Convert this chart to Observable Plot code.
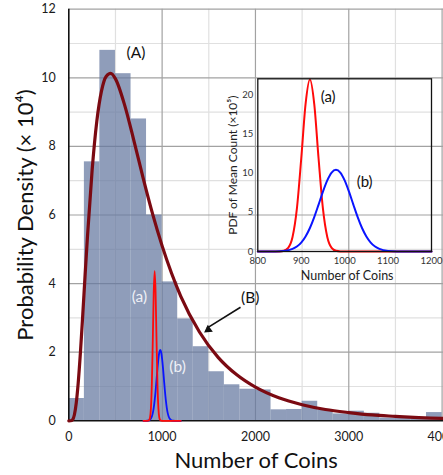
<!DOCTYPE html>
<html>
<head>
<meta charset="utf-8">
<script src="https://cdn.jsdelivr.net/npm/d3@7"></script>
<script src="https://cdn.jsdelivr.net/npm/@observablehq/plot@0.6"></script>
<style>
  html, body { margin: 0; padding: 0; background: white; }
  #wrap { position: relative; width: 443px; height: 475px; overflow: hidden; }
  #inset { position: absolute; left: 200px; top: 60px; }
</style>
</head>
<body>
<div id="wrap"><div id="main"></div><div id="inset"></div></div>
<script>
// ---- histogram ----
const binEdges = [0,167,333,500,667,833,1000,1167,1333,1500,1667,1833,2000,2167,2333,2500,2667,2833,3000,3167,3333,3500,3667,3833,4000];
const binDensity = [0.65,7.55,10.8,10.12,8.8,6.0,4.05,2.97,2.16,1.43,1.05,0.92,0.9,0.32,0.33,0.57,0.32,0.2,0.28,0.22,0.08,0.12,0.1,0.24];
// ---- fitted curve (B) ----
const curveX = [0,20,40,60,80,100,125,150,175,200,250,300,350,400,450,500,600,700,800,900,1000,1100,1200,1400,1600,1800,2000,2250,2500,2750,3000,3250,3500,3750,4000,4015];
const curveY = [0,0.001,0.029,0.176,0.522,1.078,2.01,3.11,4.26,5.37,7.31,8.73,9.61,10.04,10.13,9.97,9.19,8.14,7.04,6.01,5.10,4.31,3.63,2.59,1.85,1.34,0.98,0.67,0.47,0.33,0.24,0.17,0.13,0.094,0.070,0.069];
// ---- mean-count PDFs (a) red, (b) blue ----
const redX = [800,840,850,860,870,880,890,900,910,920,930,940,950,960,970,980,990,1000,1200];
const redInset = [0,0,0.011,0.085,0.46,1.85,5.46,11.81,18.77,21.9,18.77,11.81,5.46,1.85,0.46,0.085,0.011,0,0];
const redMain = [0,0,0.002,0.017,0.09,0.37,1.09,2.35,3.74,4.36,3.74,2.35,1.09,0.37,0.09,0.017,0.002,0,0];
const blueX = [800,820,840,860,880,890,900,910,920,930,940,950,960,970,980,990,1000,1010,1020,1030,1040,1050,1060,1070,1080,1100,1120,1140,1200];
const blueInset = [0,0,0.012,0.071,0.33,0.63,1.13,1.91,2.99,4.38,5.98,7.62,9.06,10.05,10.4,10.05,9.06,7.62,5.98,4.38,2.99,1.91,1.13,0.63,0.33,0.071,0.012,0,0];
const blueMain = [0,0,0.002,0.014,0.066,0.125,0.225,0.38,0.595,0.87,1.19,1.52,1.80,2.0,2.07,2.0,1.80,1.52,1.19,0.87,0.595,0.38,0.225,0.125,0.066,0.014,0.002,0,0];
// ---- ticks ----
const xTicks = [0,1000,2000,3000,4000];
const xMinor = [500,1500,2500,3500];
const xMajor = [1000,2000,3000,4000];
const yTicks = [0,2,4,6,8,10,12];
const yMajor = [2,4,6,8,10,12];
const yMinor = [1,3,5,7,9,11];
const insetXTicks = [800,900,1000,1100,1200];
const insetYTicks = [0,5,10,15,20];
// ---- annotations ----
const labels = [
  {x: 720, y: 10.72, text: "(A)", fill: "#111"},
  {x: 1944, y: 3.58, text: "(B)", fill: "#111"},
  {x: 757, y: 3.62, text: "(a)", fill: "#eef0f6"},
  {x: 1165, y: 1.58, text: "(b)", fill: "#eef0f6"}
];
const insetLabels = [
  {x: 962, y: 19.66, text: "(a)"},
  {x: 1046, y: 8.83, text: "(b)"}
];
const arrowLine = {x1: 1840, y1: 3.31, x2: 1480, y2: 2.70};
const arrowHead = {x: 1494, y: 2.656};

const FONT = "Lato, 'Open Sans', sans-serif";
const bins = binDensity.map((d, i) => ({x1: binEdges[i], x2: binEdges[i + 1], y: d}));
const curve = curveX.map((x, i) => ({x, y: curveY[i]}));
const redM = redX.map((x, i) => ({x, y: redMain[i]}));
const blueM = blueX.map((x, i) => ({x, y: blueMain[i]}));
const redI = redX.map((x, i) => ({x, y: redInset[i]}));
const blueI = blueX.map((x, i) => ({x, y: blueInset[i]}));

const main = Plot.plot({
  width: 443, height: 475,
  marginLeft: 68.3, marginRight: 0, marginTop: 8.7, marginBottom: 54.7,
  style: {fontFamily: FONT, fontSize: "12.5px", color: "#1a1a1a", background: "white", overflow: "hidden"},
  x: {domain: [0, 4015], ticks: xTicks, tickSize: 0, tickPadding: 11.5, label: null, tickFormat: d => String(d)},
  y: {domain: [0, 12], ticks: yTicks, tickSize: 0, tickPadding: 13, label: null},
  marks: [
    Plot.ruleX(xMinor, {stroke: "#e0e0e0", strokeWidth: 1.2}),
    Plot.ruleY(yMinor, {stroke: "#e0e0e0", strokeWidth: 1.2}),
    Plot.ruleX(xMajor, {stroke: "#a2a2a2", strokeWidth: 1.2}),
    Plot.ruleY(yMajor, {stroke: "#a2a2a2", strokeWidth: 1.2}),
    Plot.rectY(bins, {x1: "x1", x2: "x2", y: "y", fill: "rgb(100,119,160)", fillOpacity: 0.72}),
    Plot.ruleX([0], {stroke: "#111", strokeWidth: 1.6}),
    Plot.ruleY([0], {stroke: "#111", strokeWidth: 1.6}),
    Plot.line(blueM, {x: "x", y: "y", stroke: "#0a14ff", strokeWidth: 1.8, curve: "monotone-x"}),
    Plot.line(redM, {x: "x", y: "y", stroke: "#ff0a0a", strokeWidth: 1.8, curve: "monotone-x"}),
    Plot.line(curve, {x: "x", y: "y", stroke: "#7b0a12", strokeWidth: 3.2, curve: "monotone-x"}),
    Plot.link([arrowLine], {x1: "x1", y1: "y1", x2: "x2", y2: "y2", stroke: "#111", strokeWidth: 1.6}),
    Plot.dot([arrowHead], {x: "x", y: "y", symbol: "triangle2", r: 4.2, fill: "#111", stroke: "none", rotate: 235}),
    Plot.text(labels, {x: "x", y: "y", text: "text", fill: "fill", fontSize: 15.5, fontFamily: FONT}),
    Plot.text(["Number of Coins"], {frameAnchor: "bottom", textAnchor: "middle", lineAnchor: "middle", dy: 40, fontSize: 22, fontFamily: FONT, fill: "#111"}),
    Plot.text(["Probability Density (× 10⁴)"], {frameAnchor: "left", textAnchor: "middle", lineAnchor: "middle", dx: -43, rotate: -90, fontSize: 22, fontFamily: FONT, fill: "#111"})
  ]
});
document.getElementById("main").appendChild(main);

const inset = Plot.plot({
  width: 243, height: 230,
  marginLeft: 57.3, marginRight: 12, marginTop: 18.3, marginBottom: 39,
  style: {fontFamily: FONT, fontSize: "9.5px", color: "#333", background: "transparent"},
  x: {domain: [800, 1200], ticks: insetXTicks, tickSize: 0, tickPadding: 6, label: null, tickFormat: d => String(d)},
  y: {domain: [0, 22], ticks: insetYTicks, tickSize: 0, tickPadding: 4.5, label: null},
  marks: [
    Plot.line(redI, {x: "x", y: "y", stroke: "#ff0a0a", strokeWidth: 2, curve: "monotone-x"}),
    Plot.line(blueI, {x: "x", y: "y", stroke: "#0a14ff", strokeWidth: 2, curve: "monotone-x"}),
    Plot.frame({stroke: "#111", strokeWidth: 1.3}),
    Plot.text(insetLabels, {x: "x", y: "y", text: "text", fontSize: 15, fontFamily: FONT, fill: "#111"}),
    Plot.text(["Number of Coins"], {frameAnchor: "bottom", textAnchor: "middle", lineAnchor: "middle", dy: 24, dx: 2.5, fontSize: 12.5, fontFamily: FONT, fill: "#222"}),
    Plot.text(["PDF of Mean Count (×10⁵)"], {frameAnchor: "left", textAnchor: "middle", lineAnchor: "middle", dx: -24.3, rotate: -90, fontSize: 12, fontFamily: FONT, fill: "#222"})
  ]
});
document.getElementById("inset").appendChild(inset);
</script>
</body>
</html>
